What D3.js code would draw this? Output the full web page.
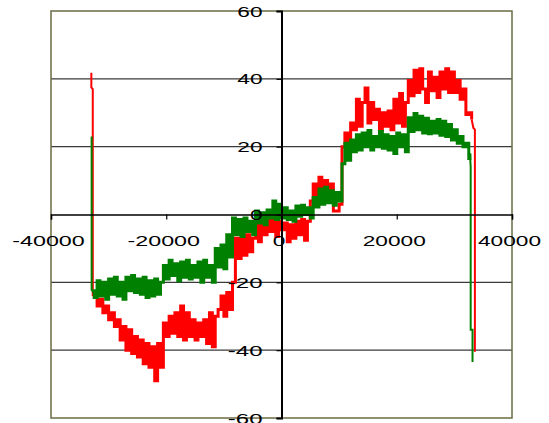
<!DOCTYPE html>
<html>
<head>
<meta charset="utf-8">
<script src="https://cdn.jsdelivr.net/npm/d3@7"></script>
<style>
  html, body { margin: 0; padding: 0; background: #ffffff; }
  svg { display: block; }
  text { font-family: "Liberation Sans", Arial, sans-serif; fill: #000; }
</style>
</head>
<body>
<div id="chart"></div>
<script>
// ---------------- data ----------------
const xTicks = [-40000, -20000, 0, 20000, 40000];
const yTicks = [-60, -40, -20, 0, 20, 40, 60];
const yGridValues = [-40, -20, 20, 40];

const xGrid = [-32500, -32000, -31500, -31000, -30500, -30000, -29500, -29000, -28500, -28000,
  -27500, -27000, -26500, -26000, -25500, -25000, -24500, -24000, -23500, -23000,
  -22500, -22000, -21500, -21000, -20500, -20000, -19500, -19000, -18500, -18000,
  -17500, -17000, -16500, -16000, -15500, -15000, -14500, -14000, -13500, -13000,
  -12500, -12000, -11500, -11000, -10500, -10000, -9500, -9000, -8500, -8000,
  -7500, -7000, -6500, -6000, -5500, -5000, -4500, -4000, -3500, -3000,
  -2500, -2000, -1500, -1000, -500, 0, 500, 1000, 1500, 2000,
  2500, 3000, 3500, 4000, 4500, 5000, 5500, 6000, 6500, 7000,
  7500, 8000, 8500, 9000, 9500, 10000, 10500, 11000, 11500, 12000,
  12500, 13000, 13500, 14000, 14500, 15000, 15500, 16000, 16500, 17000,
  17500, 18000, 18500, 19000, 19500, 20000, 20500, 21000, 21500, 22000,
  22500, 23000, 23500, 24000, 24500, 25000, 25500, 26000, 26500, 27000,
  27500, 28000, 28500, 29000, 29500, 30000, 30500, 31000, 31500, 32000, 32500];

const redY = [-23.5, -27, -25, -29, -27, -31, -29, -33, -31, -37,
  -33, -40, -34, -41, -36, -42, -37, -44, -38, -45,
  -39, -49, -38, -45, -32, -36, -30, -35, -29, -36,
  -27, -37, -29, -36, -31, -37, -32, -36, -31, -38,
  -29, -39, -30, -28, -24, -30, -23, -28, -20, -7,
  -13, -6, -12, -6, -11, -7, -2.5, -8, -2, -6,
  -0.5, -5, -1, -6.5, -2, -4.5, -2.5, -8, -3, -7,
  -2, -6, -1.5, -7.6, -2, 4, 9, 5, 11, 6,
  10, 4, 9, 1, 1, 3, 20, 24, 21, 27,
  25, 34, 26, 33, 37.3, 27, 33, 28, 31, 25,
  30, 26, 30.5, 25, 34, 27, 35.7, 26, 33, 39.5,
  35, 42.5, 36, 43, 37, 33, 42, 36.5, 40.5, 34.5,
  42, 37, 43, 36, 42, 36, 39.5, 34, 37, 29.5, 30];

const greenY = [-24.5, -19.5, -24, -20, -25, -19, -23.5, -18.5, -24, -20,
  -25, -18.5, -22.5, -18, -23, -19, -23.5, -18.5, -24.5, -19.5,
  -24, -19, -23.5, -20, -15, -19, -13.5, -18, -14.5, -19.5,
  -14, -18.5, -13.5, -19, -15, -18.5, -14, -20, -13.5, -18.5,
  -15, -20, -10, -15.5, -9, -16, -6, -12.5, -1, -6,
  -1.5, -6.5, -1, -5, -2, -6, 1, -2.5, 0.5, -3,
  1.3, -1, 4, -1.5, 3, -1, 2, -1.5, 1, -2,
  2.5, -0.5, 2.7, 0, 2, -1, 5, 2.2, 7.5, 3,
  8, 3.5, 7, 2.7, 6.5, 4, 15, 21, 16, 22,
  18.5, 23.5, 19, 24, 20, 24.8, 19, 23, 20, 24.5,
  19.5, 23.5, 19, 23, 18, 24, 20, 23.5, 18.5, 28.5,
  24.5, 29.8, 25, 29, 24, 28.4, 23.8, 27.5, 24, 28,
  23.4, 27.5, 23, 26.5, 22, 25, 21, 23, 20, 21, 16.5];

// start / end segments of each series ([x, y])
const redHead = [[-33000, 41.8], [-33000, 37.5], [-32750, 37], [-32750, -24]];
const redTail = [[33000, 28], [33300, 25.5], [33560, 25], [33560, -40.5]];
const greenHead = [[-32950, 23], [-32950, -22.5]];
const greenTail = [[32700, 18], [32830, 14], [32830, -34], [33150, -34], [33150, -43.5]];

// ---------------- chart ----------------
const W = 549, H = 423;
const svg = d3.select("#chart").append("svg").attr("width", W).attr("height", H);

const x = d3.scaleLinear().domain([-40000, 40000]).range([51, 512]);
const y = d3.scaleLinear().domain([-60, 60]).range([418, 11]);

// horizontal gridlines
svg.append("g").selectAll("line").data(yGridValues).join("line")
  .attr("x1", x(-40000)).attr("x2", x(40000))
  .attr("y1", d => y(d)).attr("y2", d => y(d))
  .attr("stroke", "#3a3a3a").attr("stroke-width", 1.4);

// plot border
svg.append("rect")
  .attr("x", x(-40000)).attr("y", y(60))
  .attr("width", x(40000) - x(-40000)).attr("height", y(-60) - y(60))
  .attr("fill", "none").attr("stroke", "#6b6b45").attr("stroke-width", 1.5);

// series
const pts = (xs, ys) => xs.map((v, i) => [v, ys[i]]);
const stepLine = d3.line().x(d => x(d[0])).y(d => y(d[1])).curve(d3.curveStepAfter);
const plainLine = d3.line().x(d => x(d[0])).y(d => y(d[1]));

function drawSeries(head, ys, tail, color) {
  const body = [head[head.length - 1]].concat(pts(xGrid, ys), [tail[0]]);
  const g = svg.append("g");
  g.append("path").datum(head).attr("d", plainLine).attr("fill", "none")
    .attr("stroke", color).attr("stroke-width", 2);
  g.append("path").datum(body).attr("d", stepLine).attr("fill", "none")
    .attr("stroke", color).attr("stroke-width", 3);
  g.append("path").datum(tail).attr("d", plainLine).attr("fill", "none")
    .attr("stroke", color).attr("stroke-width", 2);
}
drawSeries(redHead, redY, redTail, "#ff0000");
drawSeries(greenHead, greenY, greenTail, "#008000");

// axes crossing at zero
const xAxis = d3.axisBottom(x).tickValues(xTicks).tickSize(5).tickFormat("");
const yAxis = d3.axisLeft(y).tickValues(yTicks).tickSize(5).tickFormat("");
const gx = svg.append("g").attr("transform", `translate(0,${y(0)})`).call(xAxis);
const gy = svg.append("g").attr("transform", `translate(${x(0)},0)`).call(yAxis);
gx.select(".domain").attr("stroke", "#000").attr("stroke-width", 1.5);
gy.select(".domain").attr("stroke", "#000").attr("stroke-width", 2);
gx.selectAll(".tick line").attr("stroke", "#000").attr("stroke-width", 1.2);
gy.selectAll(".tick line").attr("stroke", "#000").attr("stroke-width", 1.2);

// labels (wide glyphs as in the original)
const digitW = 12.6, minusW = 9.5;
const labelLen = s => s.replace("-", "").length * digitW + (s.includes("-") ? minusW : 0);

svg.append("g").selectAll("text").data(xTicks).join("text")
  .attr("x", d => x(d) - 2.5)
  .attr("y", y(0) + 31)
  .attr("text-anchor", "middle")
  .attr("font-size", 15.5)
  .attr("textLength", d => labelLen(String(d)))
  .attr("lengthAdjust", "spacingAndGlyphs")
  .text(d => String(d));

svg.append("g").selectAll("text").data(yTicks).join("text")
  .attr("x", x(0) - 19)
  .attr("y", d => y(d) + 5.5)
  .attr("text-anchor", "end")
  .attr("font-size", 15.5)
  .attr("textLength", d => labelLen(String(d)))
  .attr("lengthAdjust", "spacingAndGlyphs")
  .text(d => String(d));
</script>
</body>
</html>
